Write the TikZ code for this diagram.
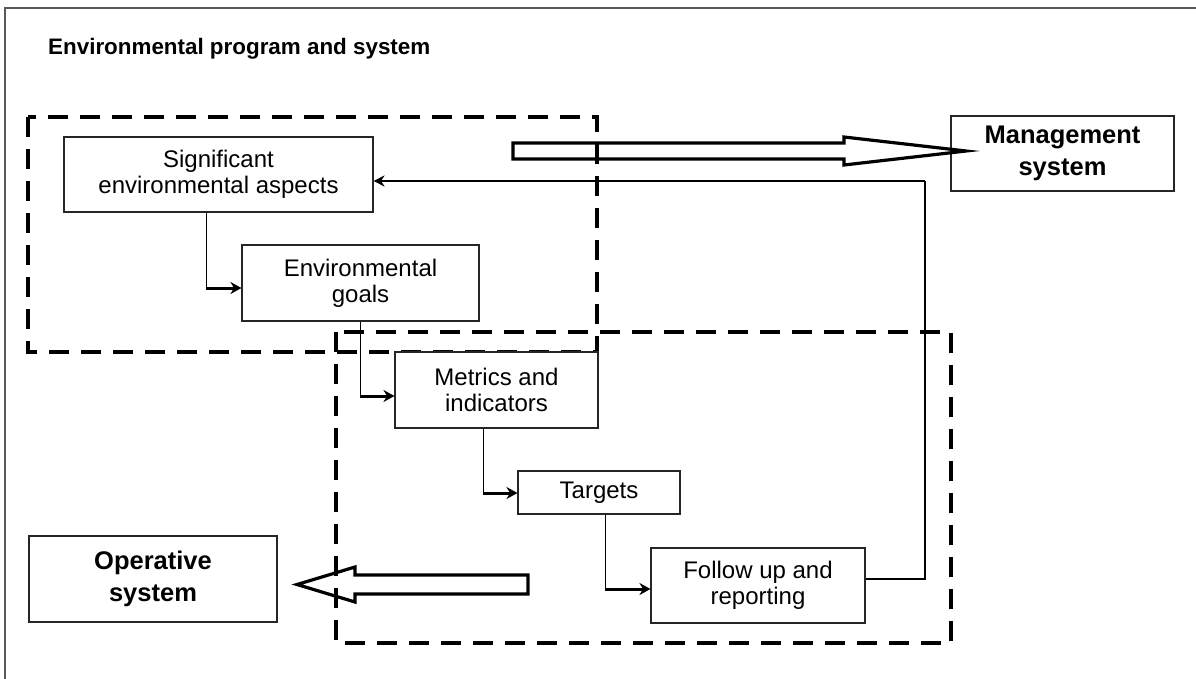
\documentclass[tikz,border=0pt]{standalone}
\usepackage{fontspec}
\setmainfont{Liberation Sans}
\usetikzlibrary{arrows.meta}

\begin{document}
\begin{tikzpicture}[x=1pt,y=-1pt,
  box/.style={draw=black!85, line width=1.1pt, align=center, inner sep=2pt,
    font=\fontsize{24}{26}\selectfont},
  sysbox/.style={draw=black!85, line width=1.3pt, align=center, inner sep=2pt,
    font=\fontsize{25.5}{32}\selectfont\bfseries},
  dashbox/.style={draw=black, line width=3.6pt, dash pattern=on 20pt off 12pt},
  riser/.style={draw=black, line width=1pt},
  feed/.style={draw=black, line width=2pt, -{Stealth[length=11pt,width=11pt]}},
  enter/.style={draw=black, line width=3pt, -{Stealth[length=11pt,width=12pt]}},
  hollow/.style={draw=black, line width=3.2pt, line join=miter},
  frameline/.style={draw=black!65, line width=1.6pt}]

\useasboundingbox (0,0) rectangle (1196,679);

% outer frame (top and left edges)
\draw[frameline] (5,679) -- (5,8) -- (1196,8);

% title
\node[anchor=base west, inner sep=0pt, font=\fontsize{22.4}{26}\selectfont\bfseries]
  (title) at (48,55) {Environmental program and system};

% dashed groups
\draw[dashbox] (28,117) rectangle (597,352);
\draw[dashbox] (336,332) rectangle (951,643);

% process steps
\node[box, minimum width=309pt, minimum height=75pt] (sea) at (218.5,174.5)
  {Significant\\environmental aspects};
\node[box, minimum width=237pt, minimum height=76pt] (goals) at (360.5,283)
  {Environmental\\goals};
\node[box, minimum width=203pt, minimum height=76pt, fill=white] (metrics) at (496.5,390)
  {Metrics and\\indicators};
\node[box, minimum width=162pt, minimum height=43pt] (targets) at (599,492.5)
  {Targets};
\node[box, minimum width=214pt, minimum height=75pt] (follow) at (758,585.5)
  {Follow up and\\reporting};

% systems
\node[sysbox, minimum width=223pt, minimum height=75pt] (mgmt) at (1062.5,153.5)
  {Management\\system};
\node[sysbox, minimum width=248pt, minimum height=86pt] (oper) at (153,579)
  {Operative\\system};

% elbow points of the step connectors
\coordinate (k1) at (206,288);
\coordinate (k2) at (360,396);
\coordinate (k3) at (483,493);
\coordinate (k4) at (605,589);
\coordinate (fbA) at (925,579);
\coordinate (fbB) at (925,181);

% step connectors
\draw[riser] (sea.south -| k1) -- (k1);
\draw[enter] (k1) -- (k1 -| goals.west);
\draw[riser] (goals.south -| k2) -- (k2);
\draw[enter] (k2) -- (k2 -| metrics.west);
\draw[riser] (metrics.south -| k3) -- (k3);
\draw[enter] (k3) -- (k3 -| targets.west);
\draw[riser] (targets.south -| k4) -- (k4);
\draw[enter] (k4) -- (k4 -| follow.west);

% feedback loop
\draw[riser, line width=1.2pt] (follow.east |- fbA) -- (fbA) -- (fbB);
\draw[feed] (fbB) -- (fbB -| sea.east);

% hollow block arrows
\draw[hollow] (513,143) -- (844,143) -- (844,137) -- (966,151) -- (844,165)
  -- (844,159) -- (513,159) -- cycle;
\draw[hollow] (528,575) -- (355,575) -- (355,567) -- (297,584.5) -- (355,602)
  -- (355,594) -- (528,594) -- cycle;

\end{tikzpicture}
\end{document}
